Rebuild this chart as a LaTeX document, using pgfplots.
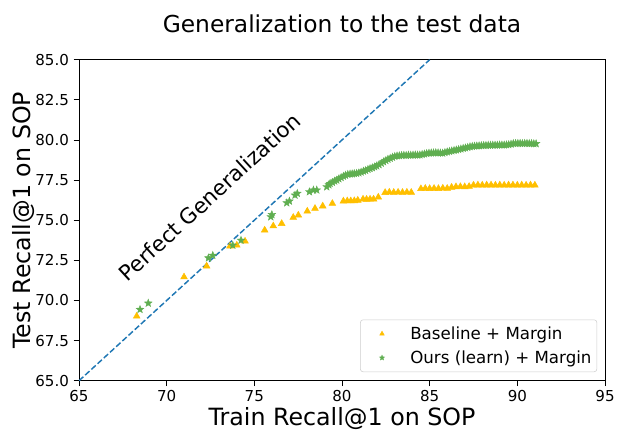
\documentclass[border=0pt]{standalone}
\usepackage{pgfplots}
\pgfplotsset{compat=1.18}
\usepackage{fontspec}
\setmainfont{DejaVu Sans}
\usetikzlibrary{plotmarks,calc}
\definecolor{lineblue}{HTML}{1F77B4}
\definecolor{gold}{HTML}{FFBF00}
\definecolor{stargreen}{HTML}{5FAE50}
\pgfdeclareplotmark{fstar}{%
  \pgfpathmoveto{\pgfqpointpolar{90}{\pgfplotmarksize}}%
  \pgfpathlineto{\pgfqpointpolar{126}{0.42\pgfplotmarksize}}%
  \pgfpathlineto{\pgfqpointpolar{162}{\pgfplotmarksize}}%
  \pgfpathlineto{\pgfqpointpolar{198}{0.42\pgfplotmarksize}}%
  \pgfpathlineto{\pgfqpointpolar{234}{\pgfplotmarksize}}%
  \pgfpathlineto{\pgfqpointpolar{270}{0.42\pgfplotmarksize}}%
  \pgfpathlineto{\pgfqpointpolar{306}{\pgfplotmarksize}}%
  \pgfpathlineto{\pgfqpointpolar{342}{0.42\pgfplotmarksize}}%
  \pgfpathlineto{\pgfqpointpolar{18}{\pgfplotmarksize}}%
  \pgfpathlineto{\pgfqpointpolar{54}{0.42\pgfplotmarksize}}%
  \pgfpathclose
  \pgfusepathqfillstroke}
\pgfplotsset{mylegimg/.style={legend image code/.code={\path (0pt,-3pt) (33pt,3pt); \draw[##1, mark size=#1] plot coordinates {(14pt,0pt)};}}}
\pgfplotstableread{
x y
68.29 69.02
70.99 71.46
72.28 72.14
73.61 73.38
74.00 73.44
74.47 73.69
75.59 74.38
76.08 74.64
76.56 74.79
77.22 75.17
77.51 75.31
78.02 75.56
78.46 75.73
78.90 75.88
79.45 76.04
80.08 76.19
80.30 76.20
80.50 76.20
80.70 76.21
80.90 76.24
81.20 76.31
81.40 76.30
81.60 76.31
81.80 76.31
82.07 76.43
82.46 76.72
82.70 76.74
82.95 76.73
83.20 76.74
83.45 76.73
83.70 76.74
83.95 76.73
84.50 76.96
84.75 76.98
85.00 76.97
85.25 76.98
85.50 76.97
85.75 76.99
86.00 76.98
86.25 77.05
86.50 77.08
86.75 77.09
87.00 77.08
87.25 77.10
87.50 77.18
87.75 77.19
88.00 77.18
88.25 77.19
88.50 77.19
88.75 77.18
89.00 77.19
89.25 77.18
89.50 77.19
89.75 77.19
90.00 77.18
90.25 77.19
90.50 77.18
90.75 77.19
91.00 77.18
}\baseline
\pgfplotstableread{
x y
68.48 69.44
68.95 69.83
72.38 72.65
72.63 72.81
73.77 73.44
74.24 73.75
75.94 75.21
76.00 75.35
76.85 76.08
77.00 76.19
77.32 76.56
77.45 76.67
78.14 76.77
78.37 76.88
78.56 76.88
79.13 77.08
79.25 77.20
79.32 77.29
79.45 77.36
79.58 77.44
79.70 77.50
79.82 77.58
79.95 77.66
80.08 77.74
80.20 77.80
80.33 77.86
80.46 77.88
80.58 77.89
80.70 77.91
80.83 77.92
80.96 77.95
81.09 78.00
81.22 78.06
81.35 78.10
81.48 78.17
81.60 78.22
81.73 78.27
81.86 78.33
81.98 78.38
82.11 78.46
82.24 78.55
82.37 78.64
82.50 78.72
82.62 78.80
82.75 78.86
82.88 78.92
83.01 78.98
83.14 79.01
83.27 79.02
83.40 79.04
83.53 79.05
83.66 79.04
83.79 79.06
83.92 79.05
84.05 79.06
84.18 79.07
84.31 79.06
84.44 79.07
84.57 79.10
84.70 79.13
84.83 79.16
84.96 79.18
85.09 79.19
85.22 79.20
85.35 79.21
85.48 79.20
85.61 79.19
85.74 79.18
85.87 79.22
86.00 79.26
86.13 79.29
86.26 79.32
86.39 79.35
86.52 79.38
86.65 79.41
86.78 79.44
86.91 79.48
87.04 79.51
87.17 79.54
87.30 79.58
87.43 79.60
87.56 79.62
87.69 79.63
87.82 79.64
87.95 79.65
88.08 79.66
88.21 79.66
88.34 79.67
88.47 79.67
88.60 79.68
88.73 79.68
88.86 79.68
88.99 79.69
89.12 79.69
89.25 79.69
89.38 79.70
89.51 79.71
89.64 79.74
89.77 79.78
89.90 79.79
90.03 79.79
90.16 79.79
90.29 79.78
90.42 79.79
90.55 79.79
90.68 79.78
90.81 79.78
90.94 79.77
91.07 79.77
}\ours
\begin{document}
\begin{tikzpicture}
\begin{axis}[
  scale only axis,
  width=394.5pt, height=240.75pt,
  xmin=65, xmax=95, ymin=65, ymax=85,
  xtick={65,70,...,95},
  ytick={65,67.5,...,85},
  yticklabel style={/pgf/number format/.cd,fixed,fixed zerofill,precision=1},
  /pgf/number format/assume math mode=true,
  tick align=outside,
  tick pos=left,
  major tick length=4pt,
  tick style={black, line width=0.6pt},
  axis line style={black, line width=0.6pt},
  ticklabel style={font=\fontsize{11.3}{13}\selectfont},
  xlabel={Train Recall@1 on SOP},
  ylabel={Test Recall@1 on SOP},
  label style={font=\fontsize{17.8}{20}\selectfont},
  xlabel style={yshift=3pt},
  ylabel style={yshift=-6.5pt},
  title={Generalization to the test data},
  title style={font=\fontsize{17.5}{20}\selectfont, yshift=10.5pt},
  legend style={at={(0.985,0.027)}, anchor=south east, draw=black!20, rounded corners=2pt,
    font=\fontsize{12.5}{15}\selectfont, row sep=3pt, inner xsep=2pt, inner ysep=3pt},
  legend cell align=left,
  clip=true,
]
\addplot[lineblue, line width=1.1pt, dash pattern=on 4.4pt off 1.9pt, forget plot] coordinates {(65,65) (85,85)};
\addplot[only marks, mark=triangle*, mark size=2.9pt, color=gold, mark options={fill=gold, draw=gold}, mylegimg=1.9pt] table[x=x,y=y] {\baseline};
\addlegendentry{Baseline + Margin}
\addplot[only marks, mark=fstar, mark size=3pt, color=stargreen, mark options={fill=stargreen, draw=stargreen, line width=0.3pt}, mylegimg=2pt] table[x=x,y=y] {\ours};
\addlegendentry{Ours (learn) + Margin}
\node[rotate=42.5, font=\fontsize{16}{19}\selectfont] at (axis cs:72.45,76.45) {Perfect Generalization};
\end{axis}
\pgfresetboundingbox
\path[use as bounding box] ($(current axis.south west)+(-59.25pt,-44.5pt)$) rectangle ($(current axis.north east)+(13.5pt,44.8pt)$);
\end{tikzpicture}
\end{document}
